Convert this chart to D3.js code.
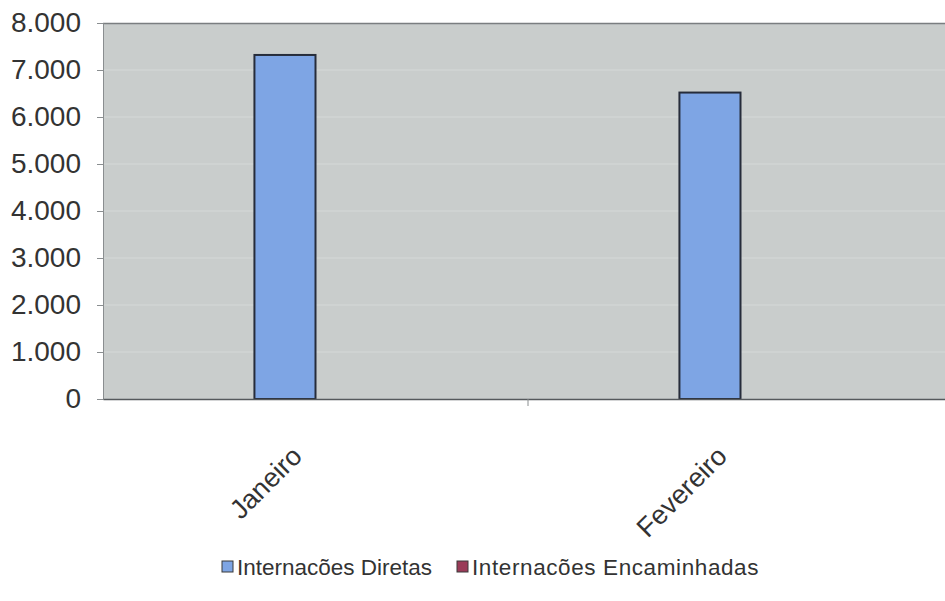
<!DOCTYPE html>
<html><head><meta charset="utf-8">
<script src="https://cdn.jsdelivr.net/npm/d3@7"></script>
<style>body{margin:0;background:#fff}svg{display:block}</style>
</head><body>
<svg id="c" width="945" height="601"></svg>
<script>
const categories = ["Janeiro", "Fevereiro"];
const seriesNames = ["Internacões Diretas", "Internacões Encaminhadas"];
const diretas = [7320, 6520];
const encaminhadas = [0, 0];
const yTicks = [0, 1000, 2000, 3000, 4000, 5000, 6000, 7000, 8000];
const colors = ["#7ea5e4", "#9a3b58"];

const svg = d3.select("#c");
const m = {l: 103, t: 23, r: 953, b: 399};
const x = d3.scaleBand().domain(categories).range([m.l, m.r]).paddingInner(0).paddingOuter(0);
const inner = d3.scaleBand().domain(seriesNames).range([0, x.bandwidth()]).paddingInner(0).paddingOuter(2.48);
const y = d3.scaleLinear().domain([0, 8000]).range([m.b, m.t]);
const font = "Liberation Sans, Arial, sans-serif";

svg.append("rect").attr("x", m.l).attr("y", m.t).attr("width", m.r - m.l).attr("height", m.b - m.t).attr("fill", "#c9cdcc");
svg.append("g").selectAll("line").data(yTicks.slice(1, -1)).join("line")
  .attr("x1", m.l).attr("x2", m.r).attr("y1", d => y(d)).attr("y2", d => y(d))
  .attr("stroke", "#d5d9d8").attr("stroke-width", 1);
svg.append("line").attr("x1", m.l).attr("x2", m.r).attr("y1", m.t + 0.5).attr("y2", m.t + 0.5).attr("stroke", "#7a7e80").attr("stroke-width", 1.5);

const series = [diretas, encaminhadas];
const g = svg.append("g");
categories.forEach((c, i) => {
  seriesNames.forEach((s, j) => {
    const v = series[j][i];
    if (v <= 0) return;
    g.append("rect")
      .attr("x", x(c) + inner(s))
      .attr("y", y(v))
      .attr("width", inner.bandwidth())
      .attr("height", y(0) - y(v))
      .attr("fill", colors[j]).attr("stroke", "#262c3a").attr("stroke-width", 2);
  });
});

const ya = svg.append("g").attr("transform", `translate(${m.l},0)`)
  .call(d3.axisLeft(y).tickValues(yTicks).tickSize(6).tickPadding(16)
    .tickFormat(d => d3.format(",")(d).replace(/,/g, ".")));
ya.select(".domain").attr("stroke", "#8a8e90");
ya.selectAll(".tick line").attr("stroke", "#8a8e90");
ya.selectAll("text").attr("font-family", font).attr("font-size", 28).attr("fill", "#333");

const xa = svg.append("g").attr("transform", `translate(0,${m.b})`)
  .call(d3.axisBottom(x).tickSize(0).tickFormat(""));
xa.select(".domain").attr("stroke", "#55595c").attr("stroke-width", 1.5);
svg.append("line").attr("x1", x("Fevereiro")).attr("x2", x("Fevereiro")).attr("y1", m.b).attr("y2", m.b + 7).attr("stroke", "#8a8e90");

svg.append("g").selectAll("text").data(categories).join("text")
  .attr("transform", d => `translate(${x(d) + x.bandwidth() / 2 - 12},${458}) rotate(-45)`)
  .attr("text-anchor", "end")
  .attr("font-family", font).attr("font-size", 27).attr("fill", "#333")
  .text(d => d);

const legX = [222, 457];
const lg = svg.append("g");
seriesNames.forEach((s, j) => {
  lg.append("rect").attr("x", legX[j]).attr("y", 561).attr("width", 11).attr("height", 11)
    .attr("fill", colors[j]).attr("stroke", "#3a3a3a").attr("stroke-width", 1);
  lg.append("text").attr("x", legX[j] + 15).attr("y", 575)
    .attr("font-family", font).attr("font-size", 22.5).attr("fill", "#333")
    .attr("letter-spacing", j === 1 ? 0.6 : 0)
    .text(s);
});
</script>
</body></html>
